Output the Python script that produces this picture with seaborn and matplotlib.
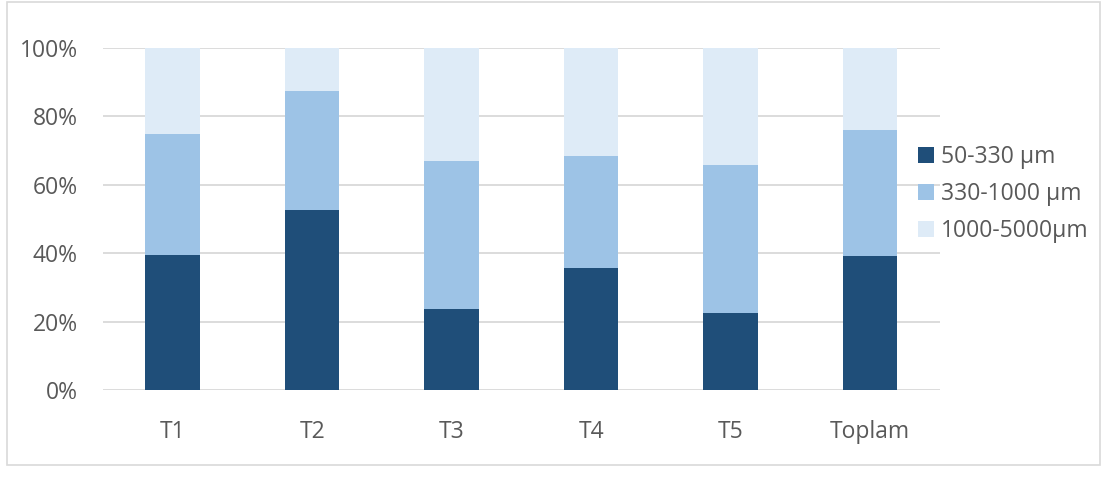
import matplotlib
matplotlib.use("Agg")
import matplotlib.pyplot as plt
import seaborn as sns
import numpy as np
from matplotlib.patches import Rectangle, Patch

categories = ["T1", "T2", "T3", "T4", "T5", "Toplam"]
series_names = ["50-330 µm", "330-1000 µm", "1000-5000µm"]
fine = [39.5, 52.7, 23.7, 35.7, 22.5, 39.1]
medium = [35.3, 34.6, 43.1, 32.7, 43.4, 36.8]
coarse = [25.2, 12.7, 33.2, 31.6, 34.1, 24.1]
yticks = [0, 20, 40, 60, 80, 100]
colors = ["#1F4E79", "#9DC3E6", "#DEEBF7"]

sns.set_theme(style="white")
plt.rcParams["font.family"] = ["Open Sans", "DejaVu Sans"]
text_color = "#595959"

fig = plt.figure(figsize=(11.07, 4.79), dpi=100)
ax = fig.add_axes([0.093, 0.186, 0.756, 0.714])

bottom = np.zeros(len(categories))
for name, vals, col in zip(series_names, [fine, medium, coarse], colors):
    sns.barplot(x=categories, y=vals, bottom=bottom, color=col, width=0.39,
                saturation=1, ax=ax, linewidth=0, zorder=3)
    bottom = bottom + np.array(vals)

ax.set_ylim(0, 100)
ax.set_xlim(-0.5, len(categories) - 0.5)
ax.set_yticks(yticks)
ax.set_yticklabels([f"{t}%" for t in yticks])
ax.yaxis.grid(True, color="#D9D9D9", linewidth=1.3, zorder=0)
ax.xaxis.grid(False)
for s in ax.spines.values():
    s.set_visible(False)
ax.tick_params(axis="both", length=0, labelsize=16.5, colors=text_color)
ax.tick_params(axis="y", pad=18)
ax.tick_params(axis="x", pad=22)
ax.set_xlabel("")
ax.set_ylabel("")

handles = [Patch(facecolor=c, edgecolor="none") for c in colors]
fig.legend(handles, series_names, loc="center left",
           bbox_to_anchor=(0.811, 0.595), frameon=False, fontsize=16.5,
           labelcolor=text_color, handlelength=0.7, handleheight=0.7,
           handletextpad=0.3, labelspacing=0.55)

fig.patches.append(Rectangle((0.006, 0.03), 0.988, 0.965, transform=fig.transFigure,
                             fill=False, edgecolor="#D9D9D9", linewidth=1.2))

fig.savefig("out.png", dpi=100, facecolor="white")
